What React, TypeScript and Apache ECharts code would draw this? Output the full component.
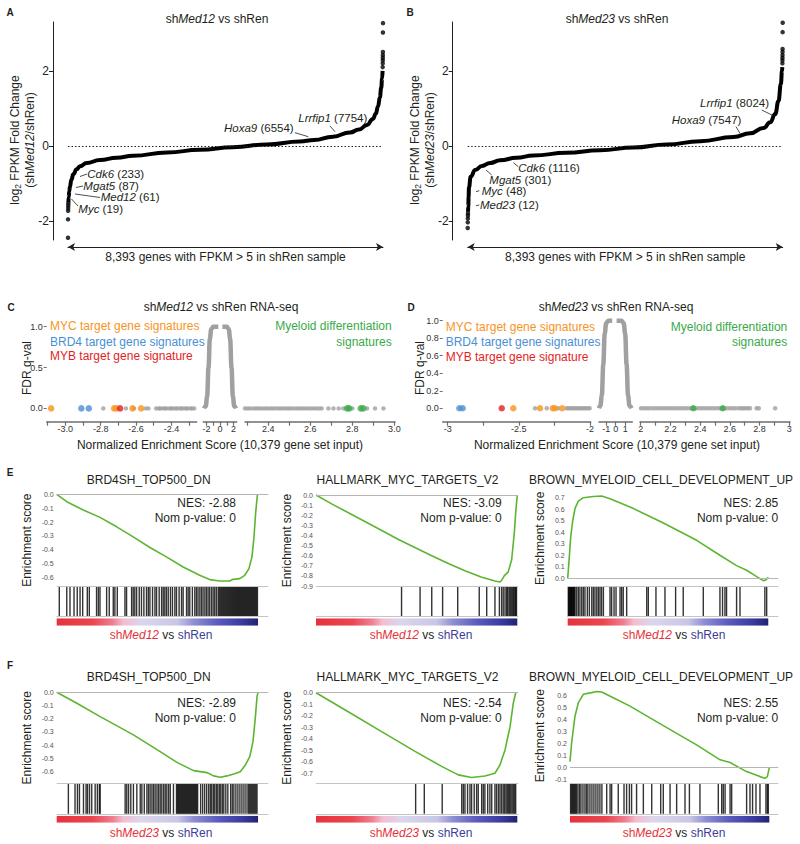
import { useEffect, useRef } from "react";
import * as echarts from "echarts";

const FONT = '"Liberation Sans", Arial, Helvetica, sans-serif';
const INK = "#231f20";
const GRAY_PT = "#a0a0a0";
const ORANGE = "#f7941d";
const BLUE = "#4a8fd4";
const RED = "#e31e24";
const GREEN = "#3aaa48";
const ES_GREEN = "#5cb531";
const LABEL_RED = "#e5323b";
const LABEL_BLUE = "#3b3c98";

// ---------- A / B : ranked log2 fold change (rank, log2FC) ----------
const GENES = 8393;
const abYTicks = [-2, 0, 2];
const aCurve = [[12,-1.5],[20,-1.35],[35,-1.2],[53,-1.08],[90,-0.9],[142,-0.75],[230,-0.62],[320,-0.54],[500,-0.45],[850,-0.37],[1300,-0.31],[1735,-0.26],[2640,-0.17],[3517,-0.1],[4396,-0.03],[5300,0.04],[6181,0.12],[6554,0.16],[7060,0.25],[7514,0.36],[7754,0.44],[7967,0.56],[8127,0.72],[8200,0.86],[8260,1.05],[8310,1.3],[8345,1.55],[8370,1.8],[8382,2.0]];
const aTail = [[1,-2.44],[2,-1.95],[4,-1.72],[6,-1.65],[8,-1.58],[10,-1.52],[8384,2.1],[8386,2.2],[8387,2.28],[8388,2.35],[8389,2.42],[8390,2.5],[8391,3.02],[8393,3.27]];
const bCurve = [[10,-1.75],[17,-1.6],[25,-1.35],[35,-1.1],[80,-0.82],[200,-0.64],[380,-0.53],[600,-0.45],[864,-0.38],[1300,-0.31],[1752,-0.25],[2640,-0.18],[3530,-0.11],[4418,-0.04],[5306,0.04],[6195,0.13],[7083,0.24],[7527,0.34],[7882,0.48],[8060,0.63],[8193,0.85],[8282,1.2],[8344,1.65],[8375,2.0],[8382,2.1]];
const bTail = [[1,-2.18],[3,-2.03],[5,-1.93],[7,-1.85],[9,-1.79],[8385,2.2],[8386,2.28],[8387,2.35],[8388,2.42],[8389,2.5],[8390,2.58],[8391,3.03],[8393,3.28]];

// ---------- C / D : NES vs FDR (all gene sets at q = 0 unless on curve) ----------
const cGray1 = [-2.785,-2.657,-2.612,-2.545,-2.53,-2.486,-2.471,-2.463,-2.449,-2.437,-2.428,-2.412,-2.401,-2.392,-2.377,-2.368,-2.352,-2.343,-2.331,-2.317,-2.309,-2.293,-2.284,-2.271];
const cOrange = [-3.08,-2.724,-2.71,-2.62,-2.571];
const cBlue = [-2.909,-2.867];
const cRed = [-2.69];
const cCenterLeft = [[-2.37,0],[-2.1,0.03],[-1.9,0.15],[-1.7,0.5],[-1.5,0.85],[-1.3,0.97],[-1.0,1.0],[-0.25,1.0]];
const cCenterRight = [[0.35,1.0],[1.0,1.0],[1.3,0.97],[1.5,0.85],[1.7,0.5],[1.9,0.15],[2.1,0.03],[2.37,0]];
const cGray3 = [2.289,2.301,2.312,2.326,2.338,2.349,2.361,2.374,2.386,2.397,2.41,2.421,2.433,2.446,2.458,2.469,2.482,2.494,2.505,2.518,2.531,2.543,2.556,2.567,2.579,2.592,2.604,2.617,2.629,2.642,2.654,2.686,2.71,2.735,2.757,2.8,2.87,2.908,2.948];
const cGreen = [2.775,2.785,2.84,2.852];

const dGray1 = [-2.386,-2.304,-2.223,-2.165,-2.152,-2.139,-2.124,-2.111,-2.098,-2.083,-2.07,-2.056,-2.043,-2.029,-2.015,-2.002];
const dOrange = [-2.539,-2.351,-2.262,-2.246,-2.195];
const dBlue = [-2.918,-2.895];
const dRed = [-2.62];
const dCenterLeft = [[-1.76,0],[-1.6,0.03],[-1.45,0.15],[-1.3,0.5],[-1.15,0.85],[-1.0,0.97],[-0.78,1],[-0.36,1]];
const dCenterRight = [[0.1,1],[0.63,1],[0.85,0.97],[1.0,0.85],[1.15,0.5],[1.3,0.15],[1.45,0.03],[1.68,0]];
const dGray3 = [2.002,2.021,2.04,2.058,2.079,2.098,2.117,2.137,2.156,2.176,2.195,2.214,2.233,2.253,2.272,2.291,2.31,2.33,2.349,2.368,2.388,2.407,2.426,2.445,2.465,2.484,2.503,2.523,2.542,2.561,2.58,2.6,2.619,2.638,2.66,2.677,2.69,2.705,2.72,2.736,2.78,2.795,2.905];
const dGreen = [2.354,2.552];

// ---------- E / F : GSEA running enrichment scores (% of ranked list, ES) ----------
const gseaTitles = ["BRD4SH_TOP500_DN", "HALLMARK_MYC_TARGETS_V2", "BROWN_MYELOID_CELL_DEVELOPMENT_UP"];
const nesE = ["-2.88", "-3.09", "2.85"];
const nesF = ["-2.89", "-2.54", "2.55"];
const e1Es = [[0,0],[5,-0.053],[13.2,-0.113],[21.5,-0.166],[29.8,-0.234],[38,-0.306],[46.3,-0.383],[54.5,-0.45],[62.8,-0.523],[71,-0.583],[76,-0.614],[81,-0.624],[86,-0.624],[87.6,-0.612],[90.9,-0.607],[93.4,-0.583],[95.5,-0.535],[97,-0.45],[98,-0.306],[98.8,-0.137],[99.7,0]];
const e2Es = [[0,0],[8,-0.09],[25,-0.27],[41,-0.44],[57.5,-0.6],[66,-0.68],[74,-0.75],[82,-0.81],[88.9,-0.85],[91.4,-0.86],[92.5,-0.835],[93.5,-0.8],[95.5,-0.76],[97.2,-0.64],[98.5,-0.38],[99.3,-0.15],[100,0]];
const e3Es = [[0,0],[0.7,0.16],[1.5,0.36],[2.5,0.5],[3.7,0.61],[5.3,0.67],[7.8,0.7],[12.8,0.71],[16.9,0.715],[21.1,0.69],[31.1,0.62],[47.7,0.48],[64.3,0.33],[75.9,0.2],[84.2,0.11],[89.2,0.07],[94.2,0.015],[97.5,-0.02],[98.8,-0.015],[100,0.01]];
const f1Es = [[0,0],[10,-0.083],[21.6,-0.184],[38.1,-0.322],[51.4,-0.448],[59.7,-0.53],[68,-0.592],[74.6,-0.607],[77.9,-0.632],[81.3,-0.642],[84.6,-0.632],[87.9,-0.617],[91.2,-0.6],[93.7,-0.55],[95.9,-0.486],[97.5,-0.373],[98.7,-0.184],[99.5,-0.033],[100,0]];
const f2Es = [[0,0],[16,-0.165],[32.6,-0.338],[49.2,-0.51],[62.4,-0.64],[70.7,-0.714],[77.3,-0.737],[83.9,-0.723],[88.9,-0.7],[91.4,-0.627],[93.9,-0.497],[96.4,-0.295],[98,-0.092],[99.2,0]];
const f3Es = [[0,0.05],[0.8,0.206],[2.5,0.43],[4.2,0.544],[6.7,0.614],[10.9,0.628],[13.4,0.637],[15.9,0.634],[21.7,0.586],[30.1,0.515],[46.8,0.352],[63.5,0.19],[75.3,0.065],[80.3,0.042],[88.6,-0.034],[95.3,-0.076],[97.8,-0.09],[99,-0.076],[100,0]];
const e1Hits = [1.3,5.0,6.6,8.6,10.2,11.6,12.9,15.2,16.2,19.8,20.7,21.5,24.8,26.1,28.1,28.9,30.1,33.9,34.7,37.2,38.0,38.8,39.7,41.0,42.1,43.3,44.6,45.5,46.3,47.6,48.8,49.6,50.9,52.1,52.9,53.7,54.5,55.4,56.5,57.5,58.7,59.5,60.8,62.0,62.8,64.5,65.3,66.1,67.4,68.6,69.4,70.2,71.1,71.9,72.7,73.6,74.4,75.2,76.0,76.9,77.7,78.5,79.3,80.2,80.7,81.2,81.7,82.2,82.7,83.2,83.7,84.2,84.7,85.2,85.7,86.2,86.7,87.2,87.7,88.2,88.7,89.2,89.7,90.2,90.7,91.2,91.7,92.2,92.7,93.2,93.7,94.2,94.7,95.2,95.7,96.2,96.7,97.2,97.7,98.2,98.7,99.2,99.7];
const e2Hits = [42.5,51.7,57.5,62.9,70.4,81.1,84.8,88.9,91.1,92.2,93.0,93.9,94.7,95.2,95.9,96.4,96.9,97.4,97.9,98.3,98.8,99.2,99.6];
const e3Hits = [0.3,0.6,0.9,1.2,1.5,1.8,2.1,2.4,2.7,3.0,3.3,3.7,4.5,5.3,6.1,7.0,7.8,8.6,9.8,10.8,12.0,12.8,13.6,14.5,15.3,16.1,16.9,17.8,21.1,21.9,23.1,24.1,26.1,26.9,27.7,29.4,39.4,40.2,44.0,48.5,53.8,57.6,67.6,75.9,77.2,78.4,79.2,84.2,85.9,98.3,99.2];
const f1Hits = [5.8,9.1,10.3,11.3,13.3,14.6,15.3,16.3,17.4,19.1,20.2,21.2,21.6,34.0,34.8,35.7,36.8,38.1,39.8,41.5,42.3,43.5,44.8,45.6,46.4,47.3,48.1,48.9,49.8,50.6,51.4,52.2,53.1,53.9,54.7,55.6,56.4,58.0,59.5,60.0,60.5,61.0,61.5,62.0,62.5,63.0,63.5,64.0,64.5,65.0,65.5,66.0,66.5,67.0,67.5,68.0,68.5,69.0,69.5,70.0,71.5,72.5,73.5,74.5,75.5,76.3,77.0,77.8,78.5,79.3,80.0,80.8,81.5,82.3,83.0,84.0,85.0,86.4,87.2,88.0,89.0,90.0,91.0,92.0,93.0,94.0,95.0,95.5,96.0,96.5,97.0,97.5,98.0,98.5,99.0,99.5];
const f2Hits = [49.5,53.8,62.7,72.4,73.2,74.0,75.3,76.5,77.3,78.6,79.8,80.6,82.3,83.1,83.9,85.3,86.4,87.3,88.9,89.7,90.6,91.4,92.2,93.0,93.7,94.4,95.0,95.6,96.2,96.8,97.4,98.0,98.6,99.2];
const f3Hits = [0.3,0.8,1.3,1.8,2.3,2.8,3.3,4.0,4.8,5.5,6.5,7.5,8.3,9.0,10.0,11.0,12.0,13.0,14.0,15.0,16.0,18.4,20.1,20.9,24.2,27.1,28.4,29.8,30.9,33.4,36.8,41.0,45.5,46.8,50.2,53.5,57.7,59.9,65.2,74.4,76.1,76.9,77.8,80.3,81.1,88.6,90.3,91.6,93.3,95.3,98.3,99.0,99.5];
const rankStops = [[0,"#e6323c"],[0.18,"#ea4650"],[0.28,"#ee8094"],[0.33,"#f2bdd0"],[0.42,"#dcd6ec"],[0.6,"#c9c6e6"],[0.68,"#8e8fd2"],[0.8,"#5a5bbc"],[0.92,"#3a3ba0"],[1,"#22236e"]];

function rich(size: number, color: string = INK) {
  return {
    i: { fontStyle: "italic", fontSize: size, fontFamily: FONT, fill: color },
    sub: { fontSize: size * 0.7, fontFamily: FONT, fill: color, padding: [size * 0.55, 0, 0, 0] },
    r: { fontSize: size, fontFamily: FONT, fill: LABEL_RED },
    ri: { fontSize: size, fontFamily: FONT, fill: LABEL_RED, fontStyle: "italic" },
    b: { fontSize: size, fontFamily: FONT, fill: LABEL_BLUE },
  };
}

function text(x: number, y: number, t: string, o: any = {}) {
  const size = o.size ?? 12;
  const color = o.color ?? INK;
  return {
    type: "text", x, y, rotation: o.rot ?? 0, silent: true, z: 100,
    style: {
      text: t, fontSize: size, fontFamily: FONT, fontWeight: o.weight ?? "normal",
      fill: color, align: o.align ?? "center", verticalAlign: "middle", rich: rich(size, color),
    },
  };
}

function seg(x1: number, y1: number, x2: number, y2: number) {
  return { type: "line", silent: true, z: 100, shape: { x1, y1, x2, y2 }, style: { stroke: INK, lineWidth: 0.8 } };
}

function buildOption() {
  const grid: any[] = [];
  const xAxis: any[] = [];
  const yAxis: any[] = [];
  const series: any[] = [];
  const gfx: any[] = [];

  const hidden = (min: number, max: number) => ({ type: "value", show: false, min, max });
  const addGrid = (l: number, t: number, w: number, h: number, xa: any, ya: any) => {
    const idx = grid.length;
    grid.push({ left: l, top: t, width: w, height: h, containLabel: false, outerBoundsMode: "none" });
    xAxis.push({ gridIndex: idx, ...xa });
    yAxis.push({ gridIndex: idx, ...ya });
    return idx;
  };

  // ---------- A / B ----------
  const addRank = (left: number, curve: number[][], tail: number[][]) => {
    const idx = addGrid(left, 22, 315, 218, {
      type: "value", min: 1, max: GENES, position: "bottom", offset: 7,
      axisLine: { show: true, onZero: false, symbol: ["arrow", "arrow"], symbolSize: [6, 7], lineStyle: { color: INK, width: 1 } },
      axisTick: { show: false }, axisLabel: { show: false }, splitLine: { show: false },
      name: "8,393 genes with FPKM > 5 in shRen sample", nameLocation: "middle", nameGap: 4,
      nameTextStyle: { fontSize: 12, color: INK, fontFamily: FONT, verticalAlign: "top" },
    }, {
      type: "value", min: -2.5, max: 3.3, position: "left", offset: 15,
      axisLine: { show: true, onZero: false, lineStyle: { color: INK, width: 1 } },
      axisTick: { show: true, length: 4, customValues: abYTicks, lineStyle: { color: INK } },
      axisLabel: { customValues: abYTicks, fontSize: 12, color: INK, fontFamily: FONT, margin: 4 },
      splitLine: { show: false },
    });
    series.push({
      type: "line", xAxisIndex: idx, yAxisIndex: idx, data: curve, symbol: "none", showSymbol: false,
      smooth: true, smoothMonotone: "x", clip: false, lineStyle: { color: "#000", width: 4 },
      markLine: { silent: true, symbol: ["none", "none"], label: { show: false },
        lineStyle: { type: [1.5, 2], color: INK, width: 1 }, data: [{ yAxis: 0 }] },
    });
    series.push({ type: "scatter", xAxisIndex: idx, yAxisIndex: idx, data: tail, symbolSize: 4.5, clip: false, itemStyle: { color: "#000" } });
  };
  addRank(68, aCurve, aTail);
  addRank(467.7, bCurve, bTail);

  gfx.push(text(10, 12, "A", { size: 10, weight: "bold" }));
  gfx.push(text(410, 12, "B", { size: 10, weight: "bold" }));
  gfx.push(text(217, 19, "sh{i|Med12} vs shRen"));
  gfx.push(text(617, 19, "sh{i|Med23} vs shRen"));
  gfx.push(text(15, 140, "log{sub|2} FPKM Fold Change", { rot: Math.PI / 2 }));
  gfx.push(text(30, 140, "(sh{i|Med12}/shRen)", { rot: Math.PI / 2 }));
  gfx.push(text(415, 140, "log{sub|2} FPKM Fold Change", { rot: Math.PI / 2 }));
  gfx.push(text(430, 140, "(sh{i|Med23}/shRen)", { rot: Math.PI / 2 }));
  const ann = (x: number, y: number, t: string) => text(x, y, t, { align: "left", size: 11.5 });
  gfx.push(ann(224, 127.7, "{i|Hoxa9} (6554)"), seg(295, 132.7, 308.3, 136.7));
  gfx.push(ann(298.3, 117.7, "{i|Lrrfip1} (7754)"), seg(330, 126, 335, 131.7));
  gfx.push(ann(87.3, 174, "{i|Cdk6} (233)"), seg(80, 176.5, 87, 174));
  gfx.push(ann(83.3, 185.7, "{i|Mgat5} (87)"), seg(76, 187.5, 83, 186));
  gfx.push(ann(100.7, 197.3, "{i|Med12} (61)"), seg(75, 194, 100, 197.5));
  gfx.push(ann(78.3, 209, "{i|Myc} (19)"), seg(71.5, 199, 78, 206));
  gfx.push(ann(700, 103.3, "{i|Lrrfip1} (8024)"), seg(761.7, 110, 773.3, 115.7));
  gfx.push(ann(671.7, 120, "{i|Hoxa9} (7547)"), seg(736, 126.7, 740, 133.3));
  gfx.push(ann(518.3, 168.3, "{i|Cdk6} (1116)"), seg(513.3, 162.7, 518.3, 166.7));
  gfx.push(ann(489.3, 180, "{i|Mgat5} (301)"), seg(486, 170, 491.7, 175));
  gfx.push(ann(481.7, 191, "{i|Myc} (48)"), seg(476, 191.7, 479.3, 190.7));
  gfx.push(ann(480, 205, "{i|Med23} (12)"), seg(476, 205.7, 479.3, 205));

  // ---------- C / D ----------
  const AXIS_Y = 421.7;
  const addNes = (l: number, t: number, w: number, h: number, xMin: number, xMax: number, ticks: number[], labels: number[], fmt: (v: number) => string, yTicks: number[] | null) =>
    addGrid(l, t, w, h, {
      type: "value", min: xMin, max: xMax, position: "bottom", offset: AXIS_Y - (t + h),
      axisLine: { show: true, onZero: false, lineStyle: { color: "#6d6d6d", width: 1.5 } },
      axisTick: { show: true, length: 4, customValues: ticks, lineStyle: { color: "#6d6d6d", width: 1.2 } },
      axisLabel: { customValues: labels, formatter: fmt, fontSize: 9, color: "#333", fontFamily: FONT, margin: 3 },
      splitLine: { show: false },
    }, yTicks ? {
      type: "value", min: 0, max: 1, position: "left",
      axisLine: { show: false, onZero: false },
      axisTick: { show: true, length: 3, customValues: yTicks, lineStyle: { color: "#6d6d6d" } },
      axisLabel: { customValues: yTicks, formatter: (v: number) => v.toFixed(1), fontSize: 9, color: "#333", fontFamily: FONT, margin: 4 },
      splitLine: { show: false },
    } : hidden(0, 1));
  const pts = (idx: number, vals: number[], color: string, size: number) =>
    series.push({ type: "scatter", xAxisIndex: idx, yAxisIndex: idx, data: vals.map((v) => [v, 0]), symbolSize: size, clip: false, itemStyle: { color } });
  const bell = (idx: number, data: number[][]) =>
    series.push({ type: "line", xAxisIndex: idx, yAxisIndex: idx, data, symbol: "none", smooth: 0.4, smoothMonotone: "x", clip: false, lineStyle: { color: GRAY_PT, width: 4.5 } });
  const f1 = (v: number) => v.toFixed(1);
  const fs = (v: number) => String(v);

  const c1 = addNes(46.7, 326.7, 150, 81.7, -3.105, -2.257, [-3.1, -3.0, -2.9, -2.8, -2.7, -2.6, -2.5, -2.4, -2.3], [-3.0, -2.8, -2.6, -2.4], f1, [0, 0.5, 1]);
  pts(c1, cGray1, GRAY_PT, 4.5); pts(c1, cOrange, ORANGE, 6.5); pts(c1, cBlue, BLUE, 6.5); pts(c1, cRed, RED, 6.5);
  const c2 = addNes(203.3, 326.7, 33.4, 81.7, -2.47, 2.47, [-2, -1, 0, 1, 2], [-2, 0, 2], fs, null);
  bell(c2, cCenterLeft); bell(c2, cCenterRight);
  const c3 = addNes(245, 326.7, 150, 81.7, 2.289, 3.003, [2.3, 2.4, 2.5, 2.6, 2.7, 2.8, 2.9, 3.0], [2.4, 2.6, 2.8, 3.0], f1, null);
  pts(c3, cGray3, GRAY_PT, 4.5); pts(c3, cGreen, GREEN, 6.5);

  const d1 = addNes(442.7, 320.7, 148, 87.6, -3.035, -1.995, [-3, -2.75, -2.5, -2.25, -2], [-3, -2.5, -2], fs, [0, 0.2, 0.4, 0.6, 0.8, 1]);
  pts(d1, dGray1, GRAY_PT, 4.5); pts(d1, dOrange, ORANGE, 6.5); pts(d1, dBlue, BLUE, 6.5); pts(d1, dRed, RED, 6.5);
  const d2 = addNes(599, 320.7, 33.3, 87.6, -1.75, 1.75, [-1, 0, 1], [-1, 0, 1], fs, null);
  bell(d2, dCenterLeft); bell(d2, dCenterRight);
  const d3 = addNes(640, 320.7, 150, 87.6, 1.995, 3.005, [2, 2.1, 2.2, 2.3, 2.4, 2.5, 2.6, 2.7, 2.8, 2.9, 3], [2, 2.2, 2.4, 2.6, 2.8, 3], fs, null);
  pts(d3, dGray3, GRAY_PT, 4.5); pts(d3, dGreen, GREEN, 6.5);

  gfx.push(text(11, 307, "C", { size: 10, weight: "bold" }));
  gfx.push(text(411, 307, "D", { size: 10, weight: "bold" }));
  gfx.push(text(221, 307, "sh{i|Med12} vs shRen RNA-seq"));
  gfx.push(text(616, 307, "sh{i|Med23} vs shRen RNA-seq"));
  gfx.push(text(26.7, 368, "FDR q-val", { rot: Math.PI / 2 }));
  gfx.push(text(420, 368, "FDR q-val", { rot: Math.PI / 2 }));
  gfx.push(text(220, 445, "Normalized Enrichment Score (10,379 gene set input)"));
  gfx.push(text(617, 445, "Normalized Enrichment Score (10,379 gene set input)"));
  const legend = (x: number, y0: number, rx: number) => {
    gfx.push(text(x, y0, "MYC target gene signatures", { align: "left", color: ORANGE }));
    gfx.push(text(x, y0 + 15.5, "BRD4 target gene signatures", { align: "left", color: BLUE }));
    gfx.push(text(x, y0 + 30, "MYB target gene signature", { align: "left", color: RED }));
    gfx.push(text(rx, y0, "Myeloid differentiation", { align: "right", color: GREEN }));
    gfx.push(text(rx, y0 + 15.5, "signatures", { align: "right", color: GREEN }));
  };
  legend(50, 326.3, 391.7);
  legend(445.7, 326.5, 787.3);

  // ---------- E / F ----------
  const addGsea = (p: any) => {
    const w = p.right - p.left;
    const es = addGrid(p.left, p.esTop, w, p.esBottom - p.esTop, hidden(0, p.xMax), {
      type: "value", min: p.yMin, max: p.yMax, position: "left",
      axisLine: { show: false, onZero: false }, axisTick: { show: false },
      axisLabel: { customValues: p.ticks, formatter: (v: number) => v.toFixed(1), fontSize: 7, color: "#555", fontFamily: FONT, margin: 3 },
      splitLine: { show: false },
    });
    series.push({
      type: "line", xAxisIndex: es, yAxisIndex: es, data: p.curve, symbol: "none", clip: false, z: 3,
      lineStyle: { color: ES_GREEN, width: 1.6 },
      markLine: { silent: true, symbol: ["none", "none"], label: { show: false }, lineStyle: { type: "solid", color: "#b5b5b5", width: 1 }, data: [{ yAxis: 0 }] },
    });
    const hit = addGrid(p.left, p.hitTop, w, p.hitH, hidden(0, p.xMax), hidden(0, 1));
    series.push({
      type: "scatter", xAxisIndex: hit, yAxisIndex: hit, data: p.hits.map((h: number) => [h, 0.5]),
      symbol: "rect", symbolSize: [1.4, p.hitH], clip: false, itemStyle: { color: "#000" },
      markLine: { silent: true, symbol: ["none", "none"], label: { show: false }, lineStyle: { type: "solid", color: "#c4c4c4", width: 1 }, data: [{ yAxis: 0 }, { yAxis: 1 }] },
    });
    const bar = addGrid(p.left, p.barTop, w, p.barH, hidden(0, p.xMax), hidden(0, 1));
    series.push({
      type: "line", xAxisIndex: bar, yAxisIndex: bar, data: [[0, 1], [100, 1]], symbol: "none",
      lineStyle: { width: 0, opacity: 0 },
      areaStyle: { opacity: 1, color: new echarts.graphic.LinearGradient(0, 0, 1, 0, rankStops.map(([o, c]) => ({ offset: o as number, color: c as string }))) },
    });
    gfx.push(text(p.titleX, p.titleY, p.title));
    gfx.push(text(p.ylabX, (p.esTop + p.esBottom) / 2, "Enrichment score", { rot: Math.PI / 2 }));
    gfx.push(text(p.nesX, p.nesY, "NES: " + p.nes, { align: "right" }));
    gfx.push(text(p.nesX, p.nesY + 15, "Nom p-value: 0", { align: "right" }));
    gfx.push(text(p.labX, p.labY, "{r|sh}{ri|" + p.kd + "} vs {b|shRen}"));
  };
  const negT = (n: number) => Array.from({ length: n + 1 }, (_, k) => -k / 10);
  const cols = [
    { left: 56.7, right: 268.3, xMax: 105.1, titleX: 148.7, ylabX: 26.7, nesX: 236, labX: 161 },
    { left: 316, right: 518.3, xMax: 100.5, titleX: 407.5, ylabX: 286.7, nesX: 501.7, labX: 421 },
    { left: 567.7, right: 778.3, xMax: 105, titleX: 661, ylabX: 540, nesX: 778.3, labX: 674 },
  ];
  const eRow = { hitTop: 586.7, hitH: 30, barTop: 618.3, barH: 7.4, titleY: 480, nesY: 502.7, labY: 635, kd: "Med12" };
  const fRow = { hitTop: 783.3, hitH: 30.5, barTop: 815.7, barH: 7, titleY: 676.7, nesY: 702.7, labY: 832.7, kd: "Med23" };
  addGsea({ ...cols[0], ...eRow, esTop: 494.3, esBottom: 586, yMin: -0.66, yMax: 0, ticks: negT(6), curve: e1Es, hits: e1Hits, title: gseaTitles[0], nes: nesE[0] });
  addGsea({ ...cols[1], ...eRow, esTop: 495, esBottom: 586, yMin: -0.9, yMax: 0, ticks: negT(9), curve: e2Es, hits: e2Hits, title: gseaTitles[1], nes: nesE[1] });
  addGsea({ ...cols[2], ...eRow, esTop: 490, esBottom: 586.7, yMin: -0.073, yMax: 0.767, ticks: [0, 0.1, 0.2, 0.3, 0.4, 0.5, 0.6, 0.7], curve: e3Es, hits: e3Hits, title: gseaTitles[2], nes: nesE[2] });
  addGsea({ ...cols[0], ...fRow, esTop: 692.3, esBottom: 783.3, yMin: -0.688, yMax: 0, ticks: negT(6), curve: f1Es, hits: f1Hits, title: gseaTitles[0], nes: nesF[0] });
  addGsea({ ...cols[1], ...fRow, esTop: 692.7, esBottom: 783.3, yMin: -0.787, yMax: 0, ticks: negT(7), curve: f2Es, hits: f2Hits, title: gseaTitles[1], nes: nesF[1] });
  addGsea({ ...cols[2], left: 570, xMax: 104.5, ...fRow, esTop: 688, esBottom: 783.3, yMin: -0.132, yMax: 0.667, ticks: [-0.1, 0, 0.1, 0.2, 0.3, 0.4, 0.5, 0.6], curve: f3Es, hits: f3Hits, title: gseaTitles[2], nes: nesF[2] });
  gfx.push(text(10, 472, "E", { size: 10, weight: "bold" }));
  gfx.push(text(10, 665, "F", { size: 10, weight: "bold" }));

  return {
    animation: false,
    backgroundColor: "#ffffff",
    textStyle: { fontFamily: FONT },
    grid, xAxis, yAxis, series,
    graphic: { elements: gfx },
  };
}

export default function App() {
  const ref = useRef<HTMLDivElement>(null);
  useEffect(() => {
    if (!ref.current) return;
    const chart = echarts.init(ref.current, null, { renderer: "svg" });
    chart.setOption(buildOption() as any);
    return () => chart.dispose();
  }, []);
  return <div ref={ref} style={{ position: "absolute", left: 0, top: 0, width: 800, height: 844, background: "#fff" }} />;
}
